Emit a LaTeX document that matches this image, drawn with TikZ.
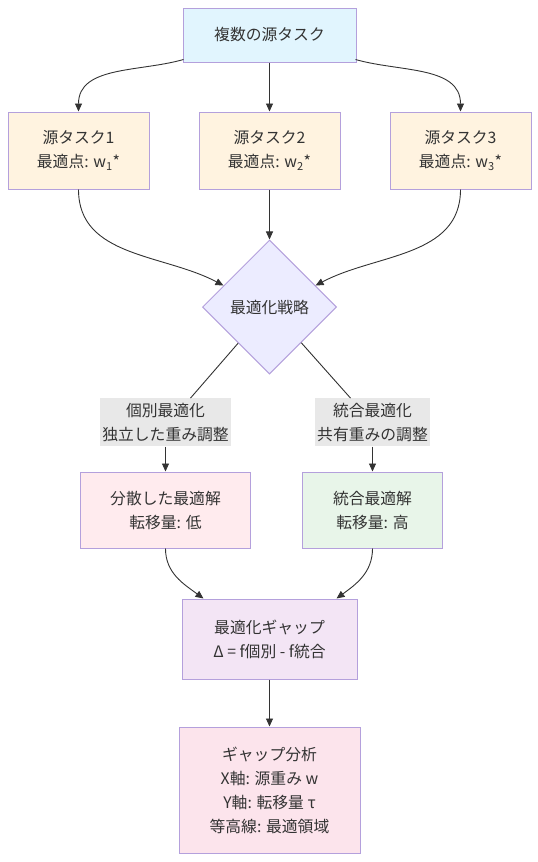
\documentclass[tikz,border=0pt]{standalone}
\usepackage{fontspec}
\setmainfont{Noto Sans CJK JP}
\usepackage{tikz}
\usetikzlibrary{arrows.meta}
\usetikzlibrary{positioning}
\usetikzlibrary{shapes.geometric}
\definecolor{ink}{HTML}{333333}
\definecolor{rim}{HTML}{B4A0DC}
\definecolor{bluefill}{HTML}{E1F5FE}
\definecolor{orangefill}{HTML}{FFF3E0}
\definecolor{diafill}{HTML}{ECECFF}
\definecolor{lblgray}{HTML}{E8E8E8}
\definecolor{pinkfill}{HTML}{FFEBEE}
\definecolor{greenfill}{HTML}{E8F5E9}
\definecolor{violetfill}{HTML}{F3E5F5}
\definecolor{rosefill}{HTML}{FCE4EC}
\tikzset{
  box/.style={draw=rim, line width=1pt, align=center, inner sep=0pt},
  srcbox/.style={box, fill=orangefill, minimum width=141pt, minimum height=77pt},
  arr/.style={draw=ink, line width=0.9pt, -{Triangle[length=8pt,width=7pt]}},
  link/.style={draw=ink, line width=0.9pt},
  lbl/.style={fill=lblgray, align=center, inner xsep=2pt, inner ysep=0pt, minimum height=48pt},
}

\begin{document}
\begin{tikzpicture}[x=1pt, y=1pt, font=\fontsize{15.8}{24}\selectfont, text=ink]
    \useasboundingbox (0,0) rectangle (538,-862);

    \node[box, fill=bluefill, minimum width=173pt, minimum height=54pt] (top) at (269.5,-35) {複数の源タスク};

    \node[srcbox, below=49pt of top] (srcb) {源タスク2\\最適点: w\textsubscript{2}*};
    \node[srcbox, left=49pt of srcb] (srca) {源タスク1\\最適点: w\textsubscript{1}*};
    \node[srcbox, right=49pt of srcb] (srcc) {源タスク3\\最適点: w\textsubscript{3}*};

    \node[diamond, draw=rim, line width=1pt, fill=diafill, minimum size=134pt, inner sep=0pt, below=50pt of srcb] (strat) {最適化戦略};

    \node[box, fill=pinkfill, minimum width=170pt, minimum height=76pt, below=97pt of strat, xshift=-104pt] (split) {分散した最適解\\転移量: 低};
    \node[box, fill=greenfill, minimum width=140pt, minimum height=76pt, below=97pt of strat, xshift=103pt] (merged) {統合最適解\\転移量: 高};
    \node[lbl, above=25pt of split] (lbla) {個別最適化\\独立した重み調整};
    \node[lbl, above=25pt of merged] (lblb) {統合最適化\\共有重みの調整};

    \node[box, fill=violetfill, minimum width=175pt, minimum height=80pt, below=224pt of strat] (gap) {最適化ギャップ\\Δ = f個別 - f統合};
    \node[box, fill=rosefill, minimum width=181pt, minimum height=126pt, below=47pt of gap] (anal) {ギャップ分析\\X軸: 源重み w\\Y軸: 転移量 τ\\等高線: 最適領域};

    % fan out, then back into the strategy
    \draw[arr] ([xshift=1pt,yshift=3pt]top.south west) to[out=-164, in=90] (srca.north);
    \draw[arr] (top) -- (srcb);
    \draw[arr] ([xshift=-1pt,yshift=3pt]top.south east) to[out=-16, in=90] (srcc.north);
    \draw[arr] (srca.south) to[out=-90, in=152] (strat.155);
    \draw[arr] (srcb) -- (strat);
    \draw[arr] (srcc.south) to[out=-90, in=28] (strat.25);

    \draw[link] (strat) -- ([xshift=25pt]lbla.north);
    \draw[link] (strat) -- ([xshift=-22pt]lblb.north);
    \draw[arr] (lbla) -- (split);
    \draw[arr] (lblb) -- (merged);

    \draw[arr] (split.south) to[out=-90, in=144] ([xshift=22pt]gap.north west);
    \draw[arr] (merged.south) to[out=-90, in=36] ([xshift=-21pt]gap.north east);
    \draw[arr] (gap) -- (anal);
\end{tikzpicture}
\end{document}
